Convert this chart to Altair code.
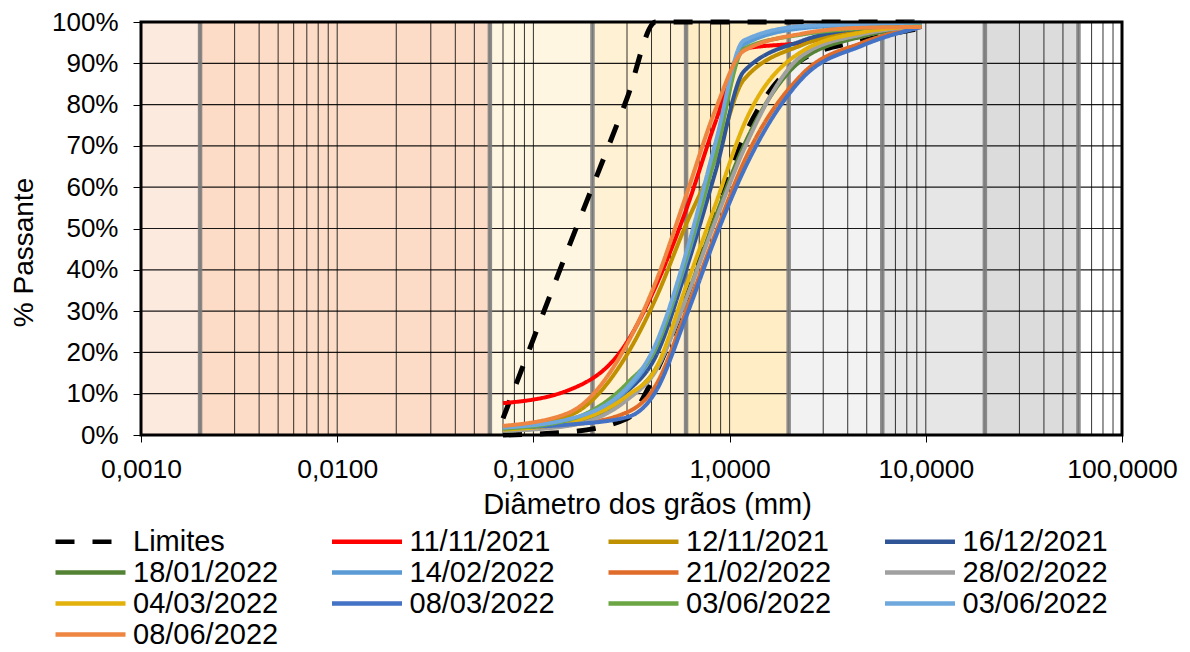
import altair as alt
import pandas as pd

# ---------------- data ----------------
SIEVES = [0.07, 0.15, 0.3, 0.42, 0.6, 0.85, 1.18, 2.36, 4.75, 9.5]  # mm

LIMIT_FINE = [4.0, 45.0, 81.5, 100, 100, 100, 100, 100, 100, 100]
LIMIT_COARSE = [0.0, 0.7, 4.0, 15.0, 33.0, 54.0, 72.0, 91.0, 95.5, 98.5]

S_11_11_2021 = [7.7, 10.8, 22.5, 36.0, 54.5, 76.0, 93.5, 95.0, 98.0, 99.0]
S_12_11_2021 = [2.0, 4.6, 19.5, 33.0, 51.0, 67.0, 86.0, 94.5, 98.0, 99.0]
S_16_12_2021 = [1.4, 3.2, 10.5, 19.0, 40.0, 64.0, 88.0, 95.5, 98.5, 99.3]
S_18_01_2022 = [1.0, 2.6, 9.0, 16.0, 33.0, 53.0, 70.0, 91.0, 96.5, 99.0]
S_14_02_2022 = [1.7, 3.5, 11.0, 21.0, 42.0, 68.0, 94.5, 98.5, 99.3, 99.8]
S_21_02_2022 = [1.5, 2.4, 5.5, 12.0, 30.0, 49.0, 66.0, 87.5, 95.0, 98.8]
S_28_02_2022 = [1.0, 2.2, 8.5, 15.5, 33.0, 52.0, 69.0, 92.0, 97.0, 99.0]
S_04_03_2022 = [1.3, 3.0, 9.5, 16.0, 36.0, 56.0, 75.0, 93.0, 97.5, 99.0]
S_08_03_2022 = [1.8, 2.5, 4.3, 10.5, 28.6, 48.0, 64.0, 86.5, 94.3, 98.8]
S_03_06_2022_A = [1.5, 3.6, 12.5, 21.0, 43.0, 68.0, 93.5, 97.0, 98.5, 99.3]
S_03_06_2022_B = [1.8, 3.8, 11.5, 22.0, 44.0, 71.0, 95.5, 99.0, 99.5, 99.9]
S_08_06_2022 = [2.2, 5.3, 22.0, 37.0, 58.0, 79.0, 93.0, 97.2, 98.6, 98.8]

SERIES_NAMES = ["Limites", "11/11/2021", "12/11/2021", "16/12/2021", "18/01/2022",
                "14/02/2022", "21/02/2022", "28/02/2022", "04/03/2022", "08/03/2022",
                "03/06/2022", "03/06/2022 ", "08/06/2022"]
SERIES_VALUES = [None, S_11_11_2021, S_12_11_2021, S_16_12_2021, S_18_01_2022,
                 S_14_02_2022, S_21_02_2022, S_28_02_2022, S_04_03_2022, S_08_03_2022,
                 S_03_06_2022_A, S_03_06_2022_B, S_08_06_2022]
SERIES_COLORS = ["#000000", "#FF0000", "#BF9000", "#2F5597", "#548235",
                 "#5B9BD5", "#DF6C2A", "#A0A0A0", "#E3B10B", "#4472C4",
                 "#6BA544", "#6FA8DC", "#EE8540"]
SERIES_DASH = [[19, 18]] + [[1, 0]] * 12

# soil fraction bands (mm) and their fills
BAND_START = [0.001, 0.002, 0.06, 0.2, 0.6, 2, 6, 20, 60]
BAND_END = [0.002, 0.06, 0.2, 0.6, 2, 6, 20, 60, 100]
BAND_FILL = ["#FDEADF", "#FCDCC7", "#FFF6E2", "#FFF1D4", "#FFEDC6",
             "#F2F2F2", "#E6E6E6", "#DCDCDC", "#FFFFFF"]
BAND_LIMITS = [0.002, 0.06, 0.2, 0.6, 2, 6, 20, 60]

X_DOMAIN = [0.001, 100]
Y_DOMAIN = [0, 100]
X_TICKS = [0.001, 0.01, 0.1, 1, 10, 100]
X_GRID = [k * 10.0 ** e for e in range(-3, 2) for k in range(1, 10)] + [100]
Y_TICKS = list(range(0, 101, 10))

FONT = "Liberation Sans"
W, H = 981, 413

# ---------------- tables ----------------
rows = []
for i, d in enumerate(SIEVES):
    rows.append({"series": "Limites", "part": "fine", "d": d, "p": LIMIT_FINE[i]})
    rows.append({"series": "Limites", "part": "coarse", "d": d, "p": LIMIT_COARSE[i]})
for name, vals in zip(SERIES_NAMES[1:], SERIES_VALUES[1:]):
    for d, p in zip(SIEVES, vals):
        rows.append({"series": name, "part": name, "d": d, "p": p})
curves = pd.DataFrame(rows)

bands = pd.DataFrame({"d": BAND_START, "b": BAND_END, "fill": BAND_FILL})
limits = pd.DataFrame({"d": BAND_LIMITS})
gridx = pd.DataFrame({"d": X_GRID})
gridy = pd.DataFrame({"p": Y_TICKS})
frame = pd.DataFrame({"d": [X_DOMAIN[0]], "b": [X_DOMAIN[1]],
                      "p": [Y_DOMAIN[0]], "e": [Y_DOMAIN[1]]})

xscale = alt.Scale(type="log", domain=X_DOMAIN, nice=False)
yscale = alt.Scale(domain=Y_DOMAIN, nice=False)

xaxis = alt.Axis(
    title="Diâmetro dos grãos (mm)", values=X_TICKS,
    labelExpr="replace(format(datum.value, '.4f'), '.', ',')",
    grid=False, domain=False, ticks=True, tickSize=7, tickColor="#000000",
    labelFont=FONT, labelFontSize=26.5, labelColor="#000000", labelPadding=14,
    titleFont=FONT, titleFontSize=29, titleFontWeight="normal", titleColor="#000000",
    titlePadding=8, titleX=506, labelFlush=False, labelOverlap=False, zindex=1,
)
yaxis = alt.Axis(
    title="% Passante", values=Y_TICKS, labelExpr="datum.value + '%'",
    grid=False, domain=False, ticks=True, tickSize=8, tickColor="#000000",
    labelFont=FONT, labelFontSize=26, labelColor="#000000", labelPadding=15,
    titleFont=FONT, titleFontSize=28, titleFontWeight="normal", titleColor="#000000",
    titlePadding=13, titleY=230, zindex=1,
)

X = alt.X("d:Q", scale=xscale, axis=xaxis)
Y = alt.Y("p:Q", scale=yscale, axis=yaxis)

band_layer = alt.Chart(bands).mark_rect().encode(
    x=X, x2="b:Q",
    fill=alt.Fill("fill:N", scale=None),
)
gridx_layer = alt.Chart(gridx).mark_rule(color="#000000", strokeWidth=1, opacity=0.8).encode(x=X)
gridy_layer = alt.Chart(gridy).mark_rule(color="#000000", strokeWidth=1.2, opacity=0.9).encode(y=Y)
limit_layer = alt.Chart(limits).mark_rule(color="#7F7F7F", strokeWidth=4.5, opacity=0.9).encode(x=X)

legend = alt.Legend(
    title=None, orient="none", legendX=-88, legendY=506,
    direction="horizontal", columns=4, symbolType="stroke",
    symbolSize=4900, symbolStrokeWidth=4.5, labelFontSize=29,
    labelFont=FONT, labelColor="#000000", labelOffset=5,
    columnPadding=50.5, rowPadding=1, clipHeight=27, labelLimit=400,
)

curve_layer = alt.Chart(curves).mark_line(interpolate="monotone").encode(
    x=X, y=Y,
    color=alt.Color("series:N", sort=SERIES_NAMES,
                    scale=alt.Scale(domain=SERIES_NAMES, range=SERIES_COLORS),
                    legend=legend),
    strokeDash=alt.StrokeDash("series:N", sort=SERIES_NAMES,
                              scale=alt.Scale(domain=SERIES_NAMES, range=SERIES_DASH),
                              legend=legend),
    strokeWidth=alt.condition(alt.datum.series == "Limites", alt.value(5), alt.value(4)),
    detail="part:N",
)

frame_layer = alt.Chart(frame).mark_rect(fillOpacity=0, stroke="#000000", strokeWidth=3).encode(
    x=X, x2="b:Q", y=Y, y2="e:Q",
)

chart = alt.layer(
    band_layer, gridx_layer, gridy_layer, limit_layer, curve_layer, frame_layer
).properties(
    width=W, height=H,
    autosize=alt.AutoSizeParams(type="none"),
    padding={"left": 133, "top": 14, "right": 60, "bottom": 209},
    background="#FFFFFF",
).configure_view(strokeWidth=0)

chart.save("out.html", embed_options={"renderer": "svg", "actions": False})
